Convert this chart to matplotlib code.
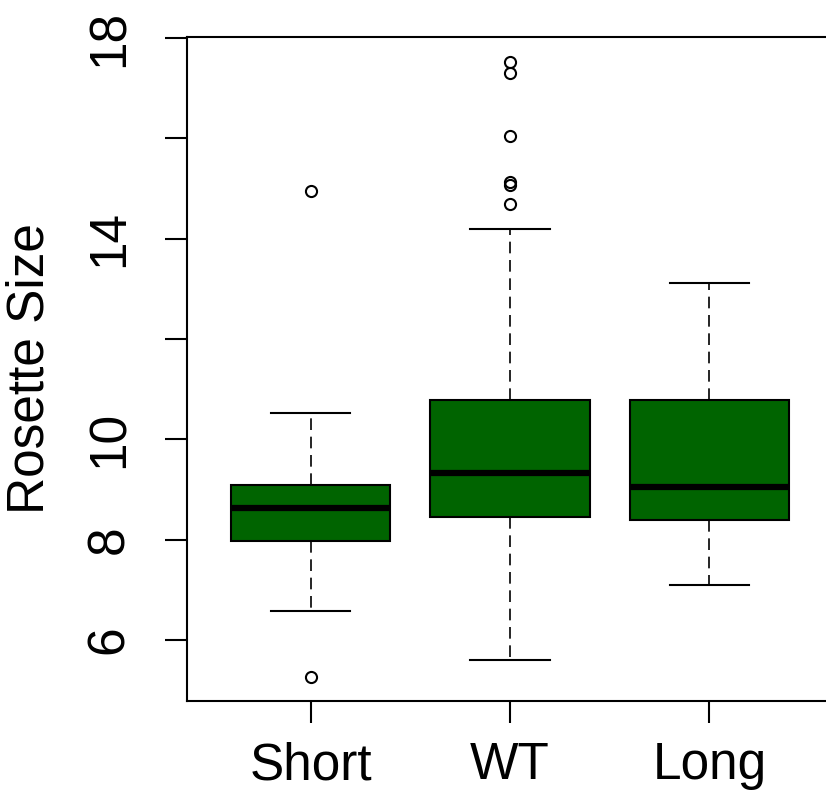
import matplotlib
matplotlib.use('Agg')
import matplotlib.pyplot as plt

plt.rcParams['font.family'] = ['Liberation Sans', 'DejaVu Sans']

groups = ['Short', 'WT', 'Long']
whis_lo = [6.58, 5.60, 7.10]
q1 = [7.97, 8.45, 8.39]
medians = [8.63, 9.33, 9.05]
q3 = [9.09, 10.78, 10.78]
whis_hi = [10.52, 14.19, 13.11]
fliers = [[14.94, 5.26],
          [17.31, 17.52, 16.04, 15.13, 15.07, 14.70],
          []]

stats = []
for i, g in enumerate(groups):
  stats.append(dict(label=g, whislo=whis_lo[i], q1=q1[i], med=medians[i],
                    q3=q3[i], whishi=whis_hi[i], fliers=fliers[i]))

fig = plt.figure(figsize=(8.26, 7.96), dpi=100)
W, H = 826.0, 796.0
ax = fig.add_axes([187 / W, (H - 701) / H, (833 - 187) / W, (701 - 37) / H])

ax.bxp(stats, positions=[1, 2, 3], widths=0.8, patch_artist=True,
       boxprops=dict(facecolor='#006400', edgecolor='black', linewidth=1.5),
       medianprops=dict(color='black', linewidth=4.5, solid_capstyle='butt'),
       whiskerprops=dict(color='black', linewidth=1.2, linestyle=(0, (7, 4))),
       capprops=dict(color='black', linewidth=1.5),
       flierprops=dict(marker='o', markerfacecolor='none', markeredgecolor='black',
                       markersize=8, markeredgewidth=1.5))

ax.set_xlim(0.38, 3.62)
ax.set_ylim(4.78, 18.02)
ax.set_yticks([6, 8, 10, 12, 14, 16, 18])
ax.set_yticklabels(['6', '8', '10', '', '14', '', '18'], rotation=90, va='center')
ax.set_xticks([1, 2, 3])
ax.set_xticklabels(groups)
ax.tick_params(axis='both', length=16, width=1.5, labelsize=37)
ax.tick_params(axis='y', pad=22)
ax.tick_params(axis='x', pad=13)
for s in ax.spines.values():
  s.set_linewidth(1.5)
ax.set_ylabel('Rosette Size', fontsize=37, labelpad=22)

fig.savefig('out.png', dpi=100)
